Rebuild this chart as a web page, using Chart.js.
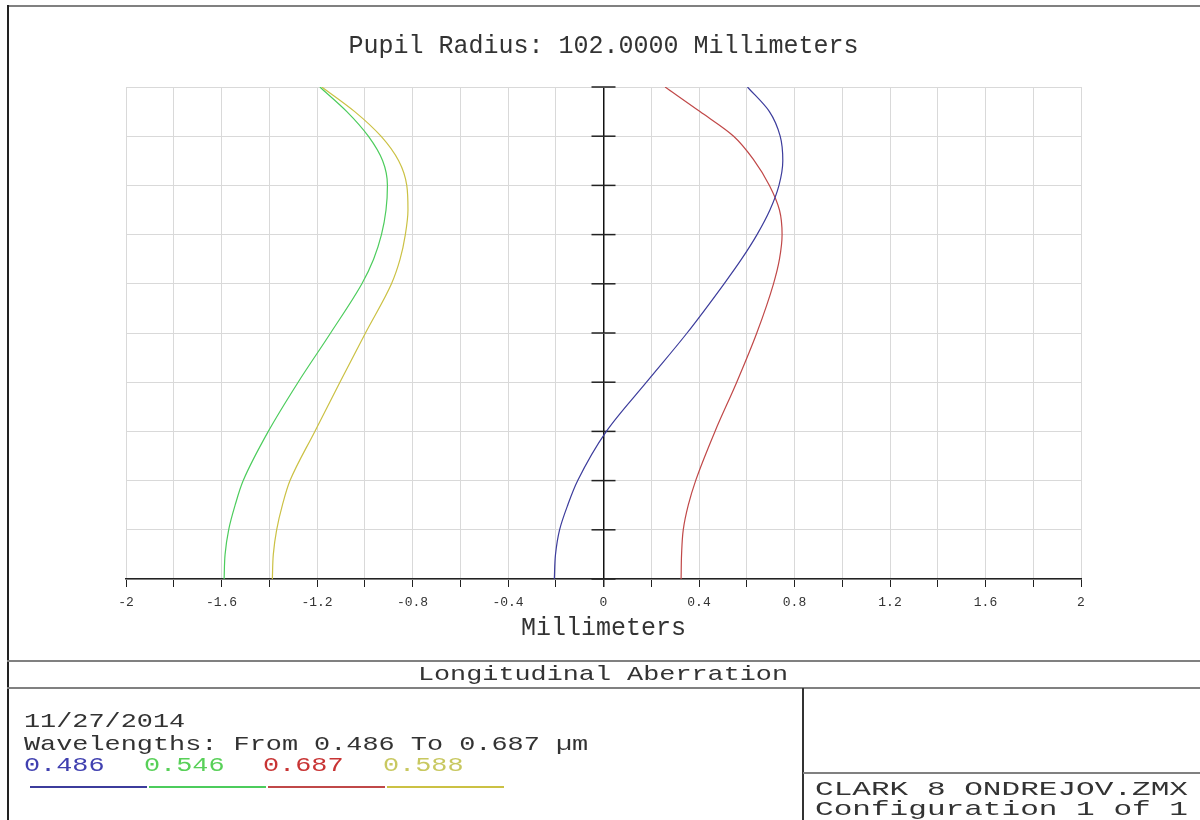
<!DOCTYPE html>
<html>
<head>
<meta charset="utf-8">
<script src="https://cdn.jsdelivr.net/npm/chart.js@4.4.1/dist/chart.umd.min.js"></script>
<style>
    body { margin: 0; background: #fff; width: 1200px; height: 820px; overflow: hidden; position: relative;
           font-family: 'Liberation Mono', 'Courier New', monospace; color: #333; }
    #wrap { position: absolute; left: 0; top: 0; width: 1200px; height: 820px; }
    .rule { position: absolute; background: #808080; }
    .txt { position: absolute; white-space: nowrap; font-size: 21px; line-height: 21px; transform-origin: left center; }
</style>
</head>
<body>
<div id="wrap"><canvas id="chart" width="1200" height="820"></canvas></div>

<div class="rule" style="left:7px;top:5px;width:1193px;height:2px;"></div>
<div class="rule" style="left:7px;top:5px;width:2px;height:815px;background:#222;"></div>
<div class="rule" style="left:7px;top:660px;width:1193px;height:2px;"></div>
<div class="rule" style="left:7px;top:687px;width:1193px;height:2px;"></div>
<div class="rule" style="left:802px;top:688px;width:2px;height:132px;background:#333;"></div>
<div class="rule" style="left:803px;top:772px;width:397px;height:2px;"></div>

<div class="txt" style="left:6px;width:1194px;top:664px;text-align:center;transform-origin:center;transform:scaleX(1.277);">Longitudinal Aberration</div>
<div class="txt" style="left:24px;top:711px;transform:scaleX(1.279);">11/27/2014</div>
<div class="txt" style="left:24px;top:734px;transform:scaleX(1.279);">Wavelengths: From 0.486 To 0.687 µm</div>
<div id="legend"></div>
<div class="txt" style="left:815px;top:779px;transform:scaleX(1.48);">CLARK 8 ONDREJOV.ZMX</div>
<div class="txt" style="left:815px;top:799px;transform:scaleX(1.48);">Configuration 1 of 1</div>

<script>
// relative pupil height (0..1) where each focus shift was read
const pupil = [0, 0.05, 0.1, 0.15, 0.2, 0.3, 0.4, 0.5, 0.6, 0.65, 0.7, 0.75, 0.8, 0.85, 0.9, 0.95, 1.0];

// longitudinal focus shift in millimeters, one array per wavelength
const shift486 = [-0.206, -0.201, -0.184, -0.150, -0.108, 0.012, 0.180, 0.350, 0.505, 0.578, 0.643, 0.697, 0.735, 0.751, 0.740, 0.695, 0.603];
const shift546 = [-1.589, -1.585, -1.570, -1.543, -1.509, -1.404, -1.279, -1.143, -1.012, -0.963, -0.930, -0.911, -0.905, -0.925, -0.985, -1.075, -1.188];
const shift687 = [0.325, 0.327, 0.334, 0.355, 0.386, 0.467, 0.558, 0.642, 0.712, 0.737, 0.748, 0.737, 0.695, 0.632, 0.545, 0.404, 0.258];
const shift588 = [-1.387, -1.383, -1.369, -1.345, -1.313, -1.209, -1.104, -0.997, -0.888, -0.852, -0.830, -0.819, -0.824, -0.858, -0.932, -1.042, -1.180];

const wavelengths = ['0.486', '0.546', '0.687', '0.588'];
const lineColors = ['#3c3c9c', '#4ccc5c', '#c04848', '#cbc144'];
const labelColors = ['#4040b0', '#58d058', '#c83434', '#c8c860'];
const allShifts = [shift486, shift546, shift687, shift588];

const monoFont = "'Liberation Mono', 'Courier New', monospace";

// legend under the plot, built from the wavelength list
const legendEl = document.getElementById('legend');
wavelengths.forEach((w, i) => {
    const label = document.createElement('div');
    label.className = 'txt';
    label.style.left = (24 + i * 119.5) + 'px';
    label.style.top = '755px';
    label.style.color = labelColors[i];
    label.style.transform = 'scaleX(1.279)';
    label.textContent = w;
    legendEl.appendChild(label);

    const swatch = document.createElement('div');
    swatch.className = 'rule';
    swatch.style.left = (30 + i * 119) + 'px';
    swatch.style.top = '786px';
    swatch.style.width = '117px';
    swatch.style.height = '1.5px';
    swatch.style.background = lineColors[i];
    legendEl.appendChild(swatch);
});

const isZero = v => Math.abs(v) < 1e-9;

// small crossing ticks along the vertical axis at x = 0
const yAxisTicks = {
    id: 'yAxisTicks',
    beforeDatasetsDraw(chart) {
        const { ctx, scales: { x, y } } = chart;
        const x0 = x.getPixelForValue(0);
        ctx.save();
        ctx.strokeStyle = '#222';
        ctx.lineWidth = 1.5;
        y.ticks.forEach(t => {
            const py = y.getPixelForValue(t.value);
            ctx.beginPath();
            ctx.moveTo(x0 - 12, py);
            ctx.lineTo(x0 + 12, py);
            ctx.stroke();
        });
        ctx.restore();
    }
};

new Chart(document.getElementById('chart'), {
    type: 'scatter',
    data: {
        datasets: wavelengths.map((w, i) => ({
            label: w,
            data: pupil.map((p, j) => ({ x: allShifts[i][j], y: p })),
            showLine: true,
            borderColor: lineColors[i],
            borderWidth: 1.2,
            pointRadius: 0,
            cubicInterpolationMode: 'monotone',
            fill: false
        }))
    },
    options: {
        indexAxis: 'y',
        responsive: false,
        animation: false,
        layout: { padding: { left: 126, right: 119, top: 6, bottom: 171 } },
        plugins: {
            legend: { display: false },
            tooltip: { enabled: false },
            title: {
                display: true,
                text: 'Pupil Radius: 102.0000 Millimeters',
                color: '#333',
                font: { family: monoFont, size: 25, weight: 'normal' },
                padding: { top: 25, bottom: 26 }
            }
        },
        scales: {
            x: {
                type: 'linear',
                min: -2,
                max: 2,
                afterFit: s => { s.height = 70; },
                ticks: {
                    stepSize: 0.2,
                    autoSkip: false,
                    maxRotation: 0,
                    padding: 8,
                    color: '#333',
                    font: { family: monoFont, size: 13 },
                    callback: v => (Math.round(v * 10) % 4 === 0 ? String(Math.round(v * 10) / 10) : '')
                },
                grid: {
                    color: c => (c.tick && isZero(c.tick.value) ? '#111' : '#d9d9d9'),
                    lineWidth: c => (c.tick && isZero(c.tick.value) ? 1.5 : 1),
                    tickColor: '#222',
                    tickLength: 8
                },
                border: { color: '#222', width: 1.5 },
                title: {
                    display: true,
                    text: 'Millimeters',
                    color: '#333',
                    font: { family: monoFont, size: 25, weight: 'normal' },
                    padding: { top: 0, bottom: 6 }
                }
            },
            y: {
                type: 'linear',
                min: 0,
                max: 1,
                afterFit: s => { s.width = 0; },
                ticks: { stepSize: 0.1, display: false },
                grid: { color: '#d9d9d9', drawTicks: false },
                border: { display: false }
            }
        }
    },
    plugins: [yAxisTicks]
});
</script>
</body>
</html>
